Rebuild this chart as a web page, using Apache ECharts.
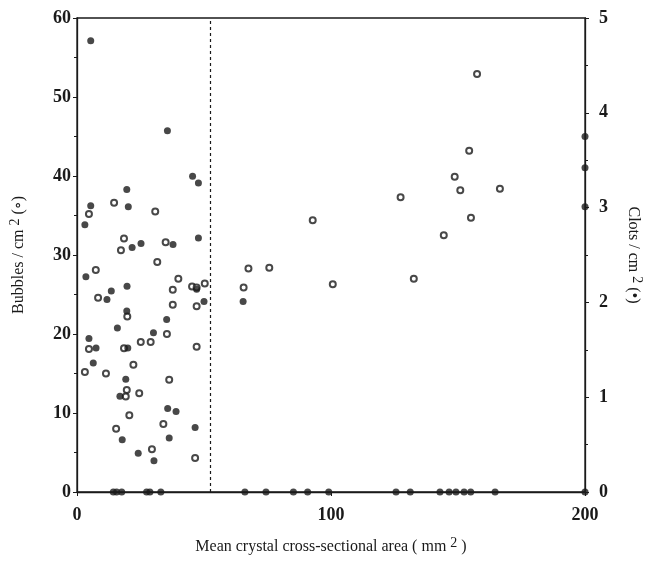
<!DOCTYPE html>
<html>
<head>
<meta charset="utf-8">
<script src="https://cdn.jsdelivr.net/npm/echarts@6/dist/echarts.min.js"></script>
<style>
  html, body { margin: 0; padding: 0; background: #fff; }
  #chart-box { width: 662px; height: 568px; }
</style>
</head>
<body>
<div id="chart-box"></div>
<script>
// open circles, left axis (bubbles / cm2)
const bubbleX = [4.7, 14.6, 30.8, 18.5, 17.3, 34.9, 31.6, 7.4, 39.9, 37.7, 45.3, 47.1, 50.3, 8.3,
  37.7, 47.1, 19.8, 35.4, 4.7, 18.5, 25.1, 29.0, 47.1, 22.2, 3.1, 11.4, 36.3, 19.6, 19.2, 24.5,
  20.6, 34.0, 15.4, 29.5, 46.5, 65.6, 67.5, 75.7, 92.8, 100.7, 127.4, 132.6, 144.4, 148.7, 150.9,
  155.1, 154.4, 157.5, 166.5];
const bubbleY = [35.2, 36.6, 35.5, 32.1, 30.6, 31.6, 29.1, 28.1, 27.0, 25.6, 26.0, 25.9, 26.4, 24.6,
  23.7, 23.5, 22.2, 20.0, 18.1, 18.2, 19.0, 19.0, 18.4, 16.1, 15.2, 15.0, 14.2, 12.9, 12.1, 12.5,
  9.7, 8.6, 8.0, 5.4, 4.3, 25.9, 28.3, 28.4, 34.4, 26.3, 37.3, 27.0, 32.5, 39.9, 38.2,
  34.7, 43.2, 52.9, 38.4];

// filled dots, right axis (clots / cm2)
const clotX = [5.4, 35.6, 45.5, 47.8, 19.6, 5.4, 20.2, 3.1, 21.7, 25.2, 37.8, 47.8, 3.5, 13.5,
  19.7, 47.1, 11.8, 50.0, 19.6, 35.3, 15.9, 30.1, 4.7, 7.5, 20.0, 6.4, 19.2, 16.9, 35.7, 39.0,
  46.5, 17.8, 36.3, 24.1, 30.3, 65.4, 200, 200, 200,
  14.3, 15.6, 17.6, 27.4, 28.7, 33.0, 66.1, 74.4, 85.2, 90.8, 99.1, 125.6, 131.2, 142.9, 146.5,
  149.2, 152.4, 155.0, 164.6, 200];
const clotY = [4.76, 3.81, 3.33, 3.26, 3.19, 3.02, 3.01, 2.82, 2.58, 2.62, 2.61, 2.68, 2.27, 2.12,
  2.17, 2.14, 2.03, 2.01, 1.91, 1.82, 1.73, 1.68, 1.62, 1.52, 1.52, 1.36, 1.19, 1.01, 0.88, 0.85,
  0.68, 0.55, 0.57, 0.41, 0.33, 2.01, 3.75, 3.42, 3.01,
  0, 0, 0, 0, 0, 0, 0, 0, 0, 0, 0, 0, 0, 0, 0,
  0, 0, 0, 0, 0];

const xTicks = [0, 100, 200];
const dividerX = 52.5;

const pair = (xs, ys) => xs.map((x, i) => [x, ys[i]]);

const font = '"Liberation Serif", "DejaVu Serif", serif';
const ink = '#1a1a1a';
const tickLabel = {color: ink, fontFamily: font, fontSize: 18, fontWeight: 'bold'};
const supStyle = {s: {fontFamily: font, fontSize: 14, color: ink, padding: [0, 0, 8, 0]}};

const chart = echarts.init(document.getElementById('chart-box'));
chart.setOption({
  animation: false,
  backgroundColor: '#fff',
  grid: {
    left: 77, right: 77, top: 18, bottom: 76,
    show: true, borderColor: ink, borderWidth: 1.3, backgroundColor: 'transparent'
  },
  xAxis: {
    type: 'value', min: 0, max: 200, interval: 100,
    axisLine: {lineStyle: {color: ink, width: 1.3}},
    axisTick: {show: true, length: 4, lineStyle: {color: ink}},
    splitLine: {show: false},
    axisLabel: Object.assign({margin: 14, formatter: v => xTicks.includes(v) ? String(v) : ''}, tickLabel),
    name: 'Mean crystal cross-sectional area ( mm {s|2} )',
    nameLocation: 'middle', nameGap: 44,
    nameTextStyle: {color: ink, fontFamily: font, fontSize: 16, rich: supStyle}
  },
  yAxis: [
    {
      type: 'value', min: 0, max: 60, interval: 10, position: 'left',
      axisLine: {show: true, lineStyle: {color: ink, width: 1.3}},
      axisTick: {show: true, length: 4, lineStyle: {color: ink}},
      minorTick: {show: true, splitNumber: 2, length: 3, lineStyle: {color: ink}},
      splitLine: {show: false},
      axisLabel: Object.assign({margin: 6}, tickLabel),
      name: 'Bubbles / cm {s|2} (∘)',
      nameLocation: 'middle', nameGap: 47, nameRotate: 90,
      nameTextStyle: {color: ink, fontFamily: font, fontSize: 16, rich: supStyle}
    },
    {
      type: 'value', min: 0, max: 5, interval: 1, position: 'right',
      axisLine: {show: true, lineStyle: {color: ink, width: 1.3}},
      axisTick: {show: true, length: 4, lineStyle: {color: ink}},
      minorTick: {show: true, splitNumber: 2, length: 3, lineStyle: {color: ink}},
      splitLine: {show: false},
      axisLabel: Object.assign({margin: 14}, tickLabel),
      name: 'Clots / cm {s|2} (•)',
      nameLocation: 'middle', nameGap: 37, nameRotate: -90,
      nameTextStyle: {color: ink, fontFamily: font, fontSize: 16, rich: supStyle}
    }
  ],
  series: [
    {
      type: 'scatter', yAxisIndex: 0, clip: false,
      data: pair(bubbleX, bubbleY),
      symbol: 'circle', symbolSize: 6,
      itemStyle: {color: '#fff', borderColor: ink, borderWidth: 2},
      markLine: {
        silent: true, symbol: 'none', label: {show: false},
        lineStyle: {color: ink, type: [3, 3], width: 1.2},
        data: [{xAxis: dividerX}]
      }
    },
    {
      type: 'scatter', yAxisIndex: 1, clip: false,
      data: pair(clotX, clotY),
      symbol: 'circle', symbolSize: 7,
      itemStyle: {color: ink}
    }
  ]
});
</script>
</body>
</html>
